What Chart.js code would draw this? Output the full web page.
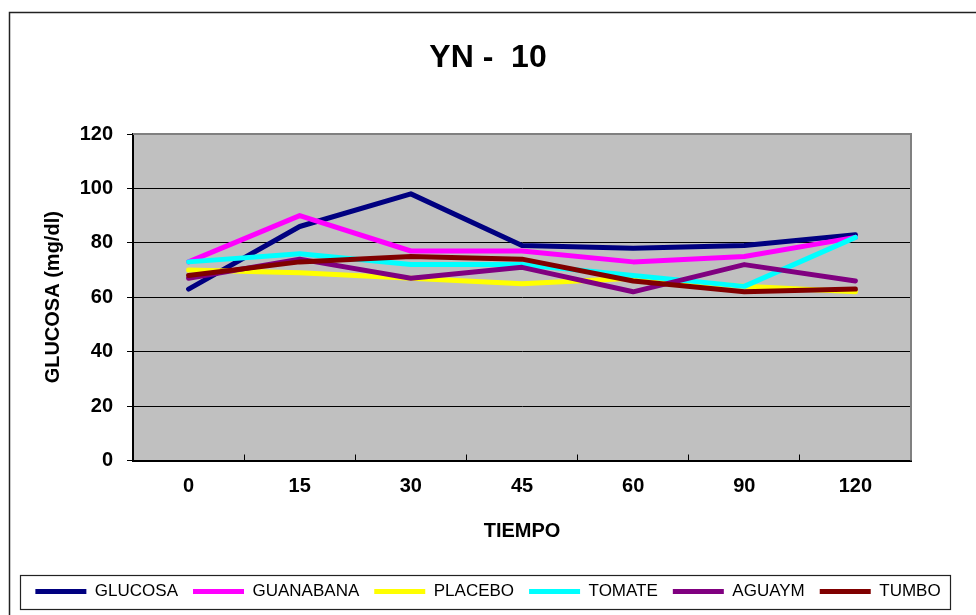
<!DOCTYPE html>
<html>
<head>
<meta charset="utf-8">
<script src="https://cdn.jsdelivr.net/npm/chart.js@4"></script>
<style>
  html, body { margin: 0; padding: 0; background: #fff; }
  canvas { display: block; }
</style>
</head>
<body>
<canvas id="c" width="976" height="615"></canvas>
<script>
const categories = ['0', '15', '30', '45', '60', '90', '120'];
const glucosa   = [63, 86, 98, 79, 78, 79, 83];
const guanabana = [73, 90, 77, 77, 73, 75, 82];
const placebo   = [70, 69, 67, 65, 67, 64, 62];
const tomate    = [73, 76, 72, 72, 68, 64, 82];
const aguaym    = [67, 74, 67, 71, 62, 72, 66];
const tumbo     = [68, 73, 75, 74, 66, 62, 63];
const seriesNames = ['GLUCOSA', 'GUANABANA', 'PLACEBO', 'TOMATE', 'AGUAYM', 'TUMBO'];
const seriesValues = [glucosa, guanabana, placebo, tomate, aguaym, tumbo];
const seriesColors = ['#000080', '#FF00FF', '#FFFF00', '#00FFFF', '#800080', '#800000'];
const yTicks = [0, 20, 40, 60, 80, 100, 120];

const FONT = '"Liberation Sans", Arial, sans-serif';

const decor = {
  id: 'decor',
  beforeDraw(chart) {
    const {ctx, chartArea: a} = chart;
    ctx.save();
    ctx.fillStyle = '#fff';
    ctx.fillRect(0, 0, chart.width, chart.height);
    ctx.strokeStyle = '#222';
    ctx.lineWidth = 1.5;
    ctx.strokeRect(9.5, 12.5, 2000, 2000);
    ctx.fillStyle = '#C0C0C0';
    ctx.fillRect(a.left, a.top, a.right - a.left, a.bottom - a.top);
    ctx.restore();
  },
  beforeDatasetsDraw(chart) {
    const {ctx, chartArea: a} = chart;
    ctx.save();
    ctx.strokeStyle = '#808080';
    ctx.lineWidth = 2;
    ctx.beginPath();
    ctx.moveTo(a.left, a.top);
    ctx.lineTo(a.right, a.top);
    ctx.lineTo(a.right, a.bottom);
    ctx.stroke();
    ctx.restore();
  },
  afterDraw(chart) {
    const lg = chart.legend;
    if (!lg || !lg.legendHitBoxes || !lg.legendHitBoxes.length) return;
    const hb = lg.legendHitBoxes;
    const first = hb[0], last = hb[hb.length - 1];
    const cy = first.top + first.height / 2;
    const ctx = chart.ctx;
    ctx.save();
    ctx.strokeStyle = '#222';
    ctx.lineWidth = 1.2;
    const l = Math.round(first.left - 15) + 0.5;
    const r = Math.round(last.left + last.width + 9) + 0.5;
    const t = Math.round(cy - 17) + 0.5;
    const b = Math.round(cy + 17) + 0.5;
    ctx.strokeRect(l, t, r - l, b - t);
    ctx.restore();
  }
};

const datasets = seriesNames.map((name, i) => ({
  label: name,
  data: seriesValues[i],
  borderColor: seriesColors[i],
  backgroundColor: seriesColors[i],
  borderWidth: 5,
  borderCapStyle: 'round',
  borderJoinStyle: 'round',
  pointRadius: 0,
  pointHoverRadius: 0,
  tension: 0,
  fill: false,
  order: seriesNames.length - i
}));

new Chart(document.getElementById('c'), {
  type: 'line',
  data: { labels: categories, datasets },
  plugins: [decor],
  options: {
    responsive: false,
    animation: false,
    devicePixelRatio: 1,
    layout: { padding: { top: 0, left: 0, right: 0, bottom: 5 } },
    plugins: {
      tooltip: { enabled: false },
      title: {
        display: true,
        text: 'YN -  10',
        color: '#000',
        font: { family: FONT, size: 32, weight: 'bold' },
        padding: { top: 39, bottom: 56.6 }
      },
      legend: {
        position: 'bottom',
        labels: {
          color: '#000',
          font: { family: FONT, size: 17 },
          usePointStyle: true,
          pointStyle: 'line',
          pointStyleWidth: 51,
          padding: 15,
          sort: (a, b) => a.datasetIndex - b.datasetIndex
        }
      }
    },
    scales: {
      x: {
        type: 'category',
        offset: true,
        grid: {
          offset: true,
          drawOnChartArea: false,
          drawTicks: true,
          tickLength: -6,
          color: '#000',
          tickColor: '#000',
          tickWidth: 1
        },
        border: { display: true, color: '#000', width: 2 },
        ticks: {
          color: '#000',
          font: { family: FONT, size: 20, weight: 'bold' },
          padding: 20,
          maxRotation: 0,
          autoSkip: false
        },
        title: {
          display: true,
          text: 'TIEMPO',
          color: '#000',
          font: { family: FONT, size: 20, weight: 'bold' },
          padding: { top: 0, bottom: 24.5 }
        },
        afterFit(s) { s.height = 107.5; }
      },
      y: {
        position: 'left',
        min: yTicks[0],
        max: yTicks[yTicks.length - 1],
        afterBuildTicks(s) { s.ticks = yTicks.map(v => ({ value: v })); },
        grid: {
          color: (c) => (c.tick && c.tick.value === yTicks[yTicks.length - 1]) ? '#808080' : '#000',
          lineWidth: 1,
          tickLength: 6,
          tickColor: '#000'
        },
        border: { display: true, color: '#000', width: 2 },
        ticks: {
          color: '#000',
          font: { family: FONT, size: 20, weight: 'bold' },
          padding: 14
        },
        title: {
          display: true,
          text: 'GLUCOSA (mg/dl)',
          color: '#000',
          font: { family: FONT, size: 20, weight: 'bold' },
          padding: { top: 41, bottom: 0 }
        },
        afterFit(s) { s.width = 133; }
      },
      yR: {
        position: 'right',
        display: true,
        grid: { display: false, drawTicks: false },
        border: { display: false },
        ticks: { display: false },
        afterFit(s) { s.width = 65; }
      }
    }
  }
});
</script>
</body>
</html>
